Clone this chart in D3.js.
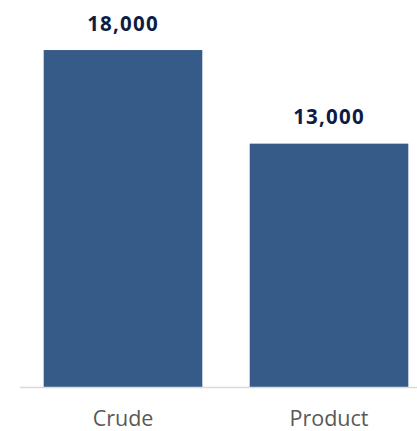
<!DOCTYPE html>
<html>
<head>
<meta charset="utf-8">
<script src="https://cdn.jsdelivr.net/npm/d3@7"></script>
<style>
  html, body { margin: 0; padding: 0; background: #ffffff; }
  svg { display: block; }
</style>
</head>
<body>
<svg id="chart" width="417" height="431"></svg>
<script>
// Volumes by type
const categories = ["Crude", "Product"];
const values = [18000, 13000];

const width = 417, height = 431;
const svg = d3.select("#chart");

const x = d3.scaleBand()
  .domain(categories)
  .range([20, 432])
  .paddingInner(0.23)
  .paddingOuter(0.115);

const y = d3.scaleLinear()
  .domain([0, 20000])
  .range([387, 12.6]);

// Bars
svg.selectAll("rect.bar")
  .data(categories)
  .join("rect")
  .attr("class", "bar")
  .attr("x", d => x(d))
  .attr("width", x.bandwidth())
  .attr("y", (d, i) => y(values[i]))
  .attr("height", (d, i) => y(0) - y(values[i]))
  .attr("fill", "#365b89");

// Baseline and category labels
const xAxis = svg.append("g")
  .attr("transform", `translate(0,${y(0)})`)
  .call(d3.axisBottom(x).tickSize(0).tickPadding(0));
xAxis.select(".domain")
  .attr("d", `M20,0.5H417`)
  .attr("stroke", "#d9d9d9")
  .attr("stroke-width", 1.5);
xAxis.selectAll(".tick text")
  .attr("font-family", "'Open Sans', sans-serif")
  .attr("font-size", 21.5)
  .attr("fill", "#595959")
  .attr("y", 38.5)
  .attr("dy", null);

// Value labels
const fmt = d3.format(",");
svg.selectAll("text.value")
  .data(categories)
  .join("text")
  .attr("class", "value")
  .attr("x", d => x(d) + x.bandwidth() / 2)
  .attr("y", (d, i) => y(values[i]) - 19.5)
  .attr("text-anchor", "middle")
  .attr("font-family", "'Open Sans', sans-serif")
  .attr("font-weight", "bold")
  .attr("font-size", 20.5)
  .attr("letter-spacing", 1.2)
  .attr("fill", "#0e1c45")
  .text((d, i) => fmt(values[i]));
</script>
</body>
</html>
